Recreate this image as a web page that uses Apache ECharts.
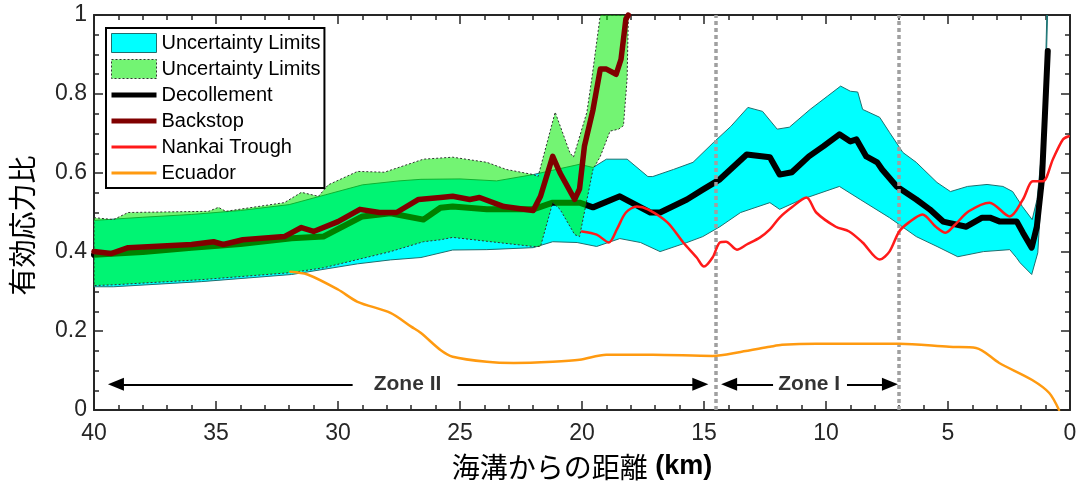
<!DOCTYPE html>
<html><head><meta charset="utf-8">
<script src="https://cdn.jsdelivr.net/npm/echarts@6/dist/echarts.min.js"></script>
<style>html,body{margin:0;padding:0;background:#fff}#chart{width:1081px;height:490px}</style>
</head><body><div id="chart"></div>
<script>
// ---------- DATA (km from trench, effective stress ratio) ----------
const cyanUpper = [[40,0.48],[38,0.488],[36,0.495],[34,0.505],[32,0.52],[30.5,0.545],[29,0.57],[27.5,0.58],[26.6,0.584],[25,0.585],[23.5,0.58],[22,0.596],[20.1,0.622],[19.55,0.614],[19,0.635],[18.15,0.635],[17.3,0.591],[17.1,0.591],[16.25,0.609],[15.45,0.627],[14.6,0.678],[13.9,0.718],[13.2,0.766],[12.6,0.756],[12.0,0.711],[11.5,0.716],[10.65,0.761],[9.95,0.794],[9.4,0.82],[9.0,0.807],[8.7,0.805],[8.5,0.761],[7.8,0.741],[7.4,0.703],[6.85,0.652],[6.3,0.627],[5.45,0.576],[4.9,0.553],[4.2,0.566],[3.4,0.571],[2.75,0.566],[2.35,0.553],[1.95,0.515],[1.55,0.482],[1.35,0.533],[1.15,0.66],[1.03,0.8],[0.95,1.0]];
const cyanLower = [[40,0.312],[39.2,0.312],[35.6,0.325],[31.9,0.343],[29.2,0.37],[27.85,0.38],[26.6,0.386],[25.3,0.405],[23.9,0.406],[22,0.411],[21.2,0.426],[20.2,0.424],[19.4,0.414],[18.45,0.434],[17.6,0.424],[16.8,0.401],[15.7,0.424],[15.05,0.439],[14.35,0.464],[13.5,0.5],[12.3,0.525],[11.9,0.508],[11.0,0.533],[9.45,0.566],[8.6,0.533],[7.4,0.487],[6.3,0.439],[5.45,0.414],[4.6,0.388],[3.55,0.401],[2.47,0.406],[2.2,0.386],[2.05,0.373],[1.57,0.343],[1.32,0.398],[1.11,0.617],[1.03,0.75],[0.92,1.0]];
const greenUpper = [[40,0.487],[39.2,0.482],[38.6,0.5],[35.3,0.503],[34.9,0.513],[34.6,0.503],[32.2,0.525],[31.5,0.551],[30.8,0.541],[30.4,0.57],[29.2,0.604],[28.1,0.602],[26.5,0.635],[25.3,0.64],[23.9,0.627],[23.1,0.609],[22.0,0.596],[21.8,0.591],[21.1,0.754],[20.5,0.652],[20.35,0.64],[19.8,0.754],[19.6,0.838],[19.25,1.0]];
const greenLower = [[40,0.315],[39.2,0.317],[35.6,0.33],[31.9,0.348],[30.6,0.36],[27.85,0.401],[26.5,0.426],[25.8,0.431],[25.3,0.437],[22.0,0.414],[21.7,0.414],[21.2,0.525],[20.9,0.508],[20.3,0.444],[20.1,0.439],[19.55,0.609],[19.25,0.642],[18.85,0.706],[18.5,0.711],[18.3,0.72],[18.15,0.84],[18.1,1.0]];
const decollement = [[40,0.393],[38,0.40],[36.0,0.411],[34,0.42],[31.9,0.435],[30.6,0.439],[29.0,0.49],[27.85,0.498],[26.5,0.482],[25.8,0.512],[25.3,0.515],[23.9,0.508],[22.0,0.508],[21.2,0.525],[20.1,0.525],[19.55,0.513],[18.45,0.541],[17.2,0.5],[16.8,0.5],[15.7,0.533],[15.05,0.558],[14.35,0.584],[13.25,0.647],[12.3,0.64],[11.9,0.596],[11.4,0.602],[10.7,0.642],[10.1,0.668],[9.45,0.698],[9.0,0.68],[8.75,0.685],[8.35,0.642],[7.9,0.627],[7.7,0.609],[7.1,0.566],[6.3,0.533],[5.75,0.508],[5.2,0.477],[4.25,0.464],[3.6,0.487],[3.28,0.487],[2.87,0.477],[2.18,0.477],[1.93,0.449],[1.57,0.411],[1.36,0.464],[1.15,0.584],[1.03,0.744],[0.91,0.909]];
const backstop = [[40,0.401],[39.3,0.396],[38.6,0.411],[36.0,0.419],[35.1,0.426],[34.7,0.419],[33.9,0.431],[32.2,0.439],[31.5,0.462],[31.0,0.452],[30.0,0.477],[29.1,0.508],[28.3,0.5],[27.6,0.5],[26.7,0.533],[25.8,0.538],[25.3,0.541],[24.6,0.533],[24.2,0.538],[23.2,0.515],[22.0,0.505],[21.7,0.541],[21.2,0.642],[20.9,0.60],[20.3,0.533],[20.1,0.56],[19.9,0.668],[19.55,0.76],[19.25,0.863],[19.0,0.863],[18.6,0.85],[18.4,0.888],[18.2,0.99],[18.1,1.0]];
const nankai = [[20.0,0.452],[19.4,0.444],[18.9,0.424],[18.55,0.46],[18.2,0.5],[17.75,0.515],[17.3,0.508],[16.5,0.475],[15.85,0.424],[15.3,0.386],[15.0,0.363],[14.65,0.386],[14.35,0.424],[14.1,0.426],[13.65,0.406],[13.25,0.419],[12.7,0.437],[12.3,0.457],[11.9,0.487],[11.4,0.513],[10.8,0.538],[10.4,0.5],[9.6,0.464],[9.05,0.452],[8.5,0.424],[7.8,0.381],[7.4,0.401],[7.0,0.452],[6.6,0.475],[6.05,0.495],[5.5,0.464],[5.1,0.449],[4.7,0.47],[4.15,0.503],[3.3,0.525],[2.47,0.49],[1.93,0.533],[1.52,0.579],[1.11,0.579],[0.7,0.635],[0.29,0.685],[0.05,0.693]];
const ecuador = [[31.95,0.35],[31.25,0.343],[30.0,0.305],[29.2,0.274],[27.85,0.246],[27.0,0.211],[26.6,0.195],[25.8,0.152],[25.3,0.135],[23.9,0.122],[22.8,0.119],[21.2,0.122],[20.1,0.127],[19.0,0.14],[17.1,0.14],[14.65,0.137],[13.5,0.147],[12.3,0.16],[11.8,0.165],[10.4,0.168],[8.35,0.168],[7.0,0.168],[4.95,0.16],[3.85,0.157],[2.9,0.119],[1.55,0.076],[0.85,0.043],[0.45,0.0]];
const zoneBoundaries = [14.5, 7.0];
const zoneLabels = ['Zone II', 'Zone I'];
const zoneLabelX = [27.15, 10.69];
const zoneY = 0.065;
// arrow segments: [arrow-tip end, plain end]
const zoneSegments = [[39.1, 29.4], [15.15, 25.1], [13.97, 12.17], [7.38, 9.14]];
const xRange = [0, 40], xStep = 5;
const yRange = [0, 1], yStep = 0.2;
const names = ['Uncertainty Limits', 'Uncertainty Limits\u200b', 'Decollement', 'Backstop', 'Nankai Trough', 'Ecuador'];

// ---------- CHART ----------
const FONT = '"Liberation Sans", Arial, Helvetica, sans-serif';
const CJK = '"Noto Sans CJK JP", "Noto Sans CJK SC", sans-serif';
const AX = '#262626';
const CYAN = '#00ffff', CYAN_EDGE = '#1f6f6f';
const GREEN = 'rgba(0,235,0,0.55)', GREEN_EDGE = '#333333';
const LEGEND_BAR = 'path://M0,0 M45,19 M0,7 L45,7 L45,12 L0,12 Z';
const LEGEND_THIN = 'path://M0,0 M45,19 M0,8 L45,8 L45,11 L0,11 Z';

function band(name, upper, lower, fill, stroke, dashed, z) {
  return {
    name, type: 'custom', z, clip: true, silent: true,
    itemStyle: { color: fill, borderColor: stroke, borderWidth: 1 },
    data: [[upper[0][0], upper[0][1]]],
    encode: { x: 0, y: 1 },
    renderItem(params, api) {
      const pts = upper.map(p => api.coord(p)).concat(lower.slice().reverse().map(p => api.coord(p)));
      return { type: 'polygon', shape: { points: pts },
        style: { fill: fill, stroke: stroke, lineWidth: 1, lineDash: dashed ? [2, 2] : null } };
    }
  };
}
function line(name, data, color, width, z) {
  return { name, type: 'line', data, z, symbol: 'none', showSymbol: false, silent: true,
    lineStyle: { color, width, join: 'round', cap: 'round' }, itemStyle: { color } };
}
function axisCommon(extra) {
  return Object.assign({
    axisLine: { show: true, onZero: false, lineStyle: { color: AX, width: 2 } },
    axisTick: { show: true, inside: true, length: 9, lineStyle: { color: AX, width: 1.5 } },
    splitLine: { show: false }
  }, extra);
}
function legendLine(name, color, icon) {
  return { name, icon, itemStyle: { color, borderWidth: 0 }, lineStyle: { width: 0, opacity: 0 } };
}

const chart = echarts.init(document.getElementById('chart'));
chart.setOption({
  animation: false,
  backgroundColor: '#fff',
  grid: { left: 93, right: 11, top: 15, bottom: 80, containLabel: false },
  xAxis: [
    axisCommon({ type: 'value', inverse: true, min: xRange[0], max: xRange[1], interval: xStep, position: 'bottom',
      minorTick: { show: true, splitNumber: 5, length: 5, lineStyle: { color: AX, width: 1.5 } },
      axisLabel: { fontSize: 23, color: AX, margin: 12, fontFamily: FONT },
      name: '{c|海溝からの距離}{b| (km)}', nameLocation: 'middle', nameGap: 43,
      nameTextStyle: { rich: { c: { fontFamily: CJK, fontSize: 28, color: '#000' }, b: { fontFamily: FONT, fontSize: 27, fontWeight: 'bold', color: '#000' } } } }),
    axisCommon({ type: 'value', inverse: true, min: xRange[0], max: xRange[1], interval: xStep, position: 'top',
      minorTick: { show: true, splitNumber: 5, length: 5, lineStyle: { color: AX, width: 1.5 } },
      axisLabel: { show: false } })
  ],
  yAxis: [
    axisCommon({ type: 'value', min: yRange[0], max: yRange[1], interval: yStep, position: 'left',
      minorTick: { show: true, splitNumber: 4, length: 5, lineStyle: { color: AX, width: 1.5 } },
      axisLabel: { fontSize: 23, color: AX, margin: 7, fontFamily: FONT },
      name: '有効応力比', nameLocation: 'middle', nameGap: 58,
      nameTextStyle: { fontFamily: CJK, fontSize: 28, color: '#000', padding: [0, 26, 0, 0] } }),
    axisCommon({ type: 'value', min: yRange[0], max: yRange[1], interval: yStep, position: 'right',
      minorTick: { show: true, splitNumber: 4, length: 5, lineStyle: { color: AX, width: 1.5 } },
      axisLabel: { show: false } })
  ],
  legend: {
    orient: 'vertical', left: 106, top: 28, itemWidth: 45, itemHeight: 19, itemGap: 6,
    padding: [5, 4, 5, 5], borderColor: '#000', borderWidth: 2, backgroundColor: '#fff',
    selectedMode: false, textStyle: { fontSize: 20, color: '#000', fontFamily: FONT },
    data: [
      { name: names[0], icon: 'rect', itemStyle: { color: CYAN, borderColor: CYAN_EDGE, borderWidth: 1 } },
      { name: names[1], icon: 'rect', itemStyle: { color: GREEN, borderColor: GREEN_EDGE, borderWidth: 1, borderType: [2, 2] } },
      legendLine(names[2], '#000000', LEGEND_BAR),
      legendLine(names[3], '#800000', LEGEND_BAR),
      legendLine(names[4], '#ff1a1a', LEGEND_THIN),
      legendLine(names[5], '#ff9a10', LEGEND_THIN)
    ]
  },
  series: [
    band(names[0], cyanUpper, cyanLower, CYAN, CYAN_EDGE, false, 1),
    line(names[2], decollement, '#000000', 6, 2),
    band(names[1], greenUpper, greenLower, GREEN, GREEN_EDGE, true, 3),
    line(names[3], backstop, '#800000', 5.5, 4),
    Object.assign(line(names[4], nankai, '#ff1a1a', 2.5, 5), { smooth: 0.3 }),
    Object.assign(line(names[5], ecuador, '#ff9a10', 2.5, 6), { smooth: 0.3 }),
    { name: 'boundaries', type: 'line', data: [], z: 7, silent: true,
      markLine: { silent: true, symbol: ['none', 'none'], label: { show: false },
        lineStyle: { color: '#a0a0a0', width: 3.5, type: [4, 3] },
        data: zoneBoundaries.map(x => ({ xAxis: x })) } },
    { name: 'zones', type: 'line', data: [], z: 8, silent: true,
      markLine: { silent: true, label: { show: false }, symbolSize: [13, 16],
        lineStyle: { color: '#000', width: 2, type: 'solid' },
        data: zoneSegments.map(s => [{ coord: [s[0], zoneY], symbol: 'triangle' }, { coord: [s[1], zoneY], symbol: 'none' }]) } },
    { name: 'zoneText', type: 'scatter', z: 8, silent: true, symbolSize: 1, itemStyle: { color: 'rgba(0,0,0,0)' },
      data: zoneLabelX.map((x, i) => ({ value: [x, zoneY], label: { formatter: zoneLabels[i] } })),
      label: { show: true, position: 'inside', fontSize: 21, fontWeight: 'bold', color: '#000', fontFamily: FONT } }
  ]
});
</script></body></html>
